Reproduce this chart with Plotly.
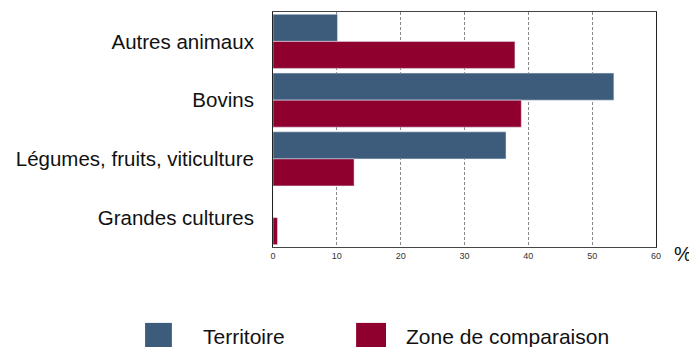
import plotly.graph_objects as go

categories = ["Autres animaux", "Bovins", "Légumes, fruits, viticulture", "Grandes cultures"]
territoire = [10.1, 53.4, 36.5, 0.0]
zone_comparaison = [37.9, 38.9, 12.7, 0.7]
series_names = ["Territoire", "Zone de comparaison"]
x_ticks = [0, 10, 20, 30, 40, 50, 60]

BLUE = "#3d5b7a"
RED = "#8f002f"
FONT = "Liberation Sans, Arial, sans-serif"

fig = go.Figure()
fig.add_trace(go.Bar(y=categories, x=territoire, orientation="h",
                     name=series_names[0], marker_color=BLUE))
fig.add_trace(go.Bar(y=categories, x=zone_comparaison, orientation="h",
                     name=series_names[1], marker_color=RED))

fig.update_layout(
    width=697, height=347,
    margin=dict(l=265, r=49, t=4, b=108),
    barmode="group",
    bargap=0.08,
    bargroupgap=0,
    plot_bgcolor="white",
    paper_bgcolor="white",
    showlegend=False,
    font=dict(family=FONT, color="#111"),
)

fig.update_xaxes(
    range=[0, 60],
    tickvals=x_ticks,
    tickfont=dict(size=9, color="#333"),
    showgrid=True,
    gridcolor="#888",
    griddash="3px,2px",
    gridwidth=1,
    showline=True,
    linecolor="#444",
    mirror=True,
    zeroline=False,
    ticks="",
    automargin=False,
)
fig.update_yaxes(
    categoryorder="array",
    categoryarray=categories,
    autorange="reversed",
    tickfont=dict(size=20.5, color="#111"),
    ticklabelstandoff=14,
    showline=True,
    linecolor="#222",
    mirror=True,
    showgrid=False,
    ticks="",
    automargin=False,
)

# "%" unit label at the end of the x axis
fig.add_annotation(text="%", xref="paper", yref="paper", x=1.07, y=-0.03,
                   showarrow=False, font=dict(size=20, color="#111"),
                   xanchor="center", yanchor="middle")

# legend drawn below the chart with large squares
legend_items = [(series_names[0], BLUE, -0.334, -0.264, -0.188),
                (series_names[1], RED, 0.217, 0.295, 0.342)]
for name, col, sx0, sx1, tx in legend_items:
    fig.add_shape(type="rect", xref="paper", yref="paper",
                  x0=sx0, x1=sx1, y0=-0.43, y1=-0.323,
                  fillcolor=col, line_width=0)
    fig.add_annotation(text=name, xref="paper", yref="paper", x=tx, y=-0.379,
                       showarrow=False, xanchor="left", yanchor="middle",
                       font=dict(size=21, color="#111"))

fig.write_html("out.html")
